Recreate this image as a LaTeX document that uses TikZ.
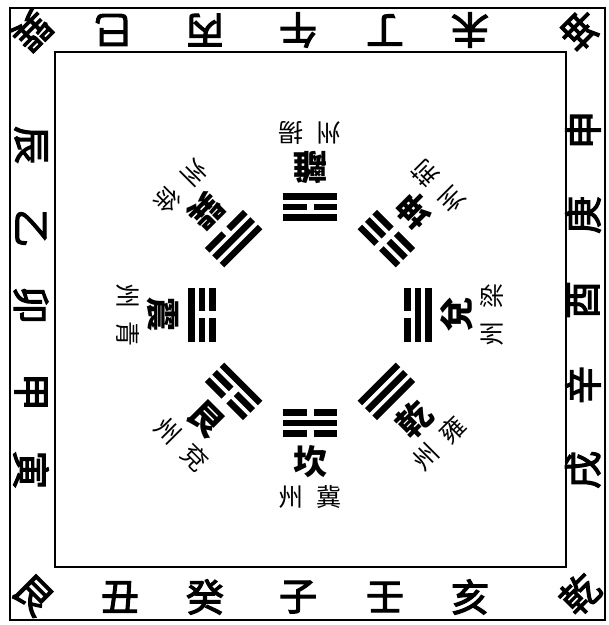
\documentclass[tikz,border=0pt]{standalone}
\usepackage{fontspec}
\newfontfamily\cjk{Noto Sans CJK TC}
\newfontfamily\cjkm{Noto Sans CJK TC}[FakeBold=3]
\newcommand\yaoline[2]{%
  \ifnum#2=1
    \draw[yao] (-27,#1) -- (27,#1);
  \else
    \draw[yao] (-27,#1) -- (-3.5,#1);
    \draw[yao] (3.5,#1) -- (27,#1);
  \fi}
\newcommand\gua[8]{%
  \begin{scope}[shift={(310,310)}, rotate=#1]
    \yaoline{-118.5}{#2}\yaoline{-108}{#3}\yaoline{-97.5}{#4}
    \node[gname, rotate=#1] (#8n) at (0,-147) {#5};
    \node[glabel, rotate=#1] (#8a) at (19,-182) {#6};
    \node[glabel, rotate=#1] (#8b) at (-19,-182) {#7};
  \end{scope}}
\begin{document}
\begin{tikzpicture}[x=1pt,y=1pt,
  bord/.style={font=\cjkm\fontsize{38}{38}\selectfont, inner sep=0pt},
  gname/.style={font=\cjk\bfseries\fontsize{34}{34}\selectfont, inner sep=0pt},
  glabel/.style={font=\cjk\fontsize{25}{25}\selectfont, inner sep=0pt},
  yao/.style={line width=6.5pt}]
\useasboundingbox (0,0) rectangle (609,625);
\fill[white] (0,0) rectangle (609,625);
\draw[line width=1.6pt] (10,5) rectangle (605,617);
\draw[line width=1.2pt] (55,58) rectangle (566,573);
% inner trigram groups
\gua{0}{0}{1}{0}{坎}{冀}{州}{kan}
\gua{45}{1}{1}{1}{乾}{雍}{州}{qian}
\gua{90}{1}{1}{0}{兌}{梁}{州}{dui}
\gua{135}{0}{0}{0}{坤}{荊}{州}{kun}
\gua{180}{1}{0}{1}{離}{揚}{州}{li}
\gua{225}{0}{1}{1}{巽}{徐}{州}{xun}
\gua{270}{1}{0}{0}{震}{青}{州}{zhen}
\gua{315}{0}{0}{1}{艮}{兗}{州}{gen}
% top row
\node[bord, rotate=-135] (cxun) at (32,594) {巽};
\node[bord, rotate=180] (tsi) at (113,595) {巳};
\node[bord, rotate=180] (tbing) at (205,595) {丙};
\node[bord, rotate=180] (twu) at (298,595) {午};
\node[bord, rotate=180] (tding) at (385,595) {丁};
\node[bord, rotate=180] (twei) at (470,595) {未};
\node[bord, rotate=135] (ckun) at (580,595) {坤};
% bottom row
\node[bord, rotate=-45] (cgen) at (33,30) {艮};
\node[bord] (bchou) at (120,28) {丑};
\node[bord] (bgui) at (205,28) {癸};
\node[bord] (bzi) at (298,28) {子};
\node[bord] (bren) at (385,28) {壬};
\node[bord] (bhai) at (470,28) {亥};
\node[bord, rotate=45] (cqian) at (580,31) {乾};
% left column
\node[bord, rotate=-90] (lchen) at (31,480) {辰};
\node[bord, rotate=-90] (lyi) at (31,397) {乙};
\node[bord, rotate=-90] (lmao) at (31,320) {卯};
\node[bord, rotate=-90] (ljia) at (31,233) {甲};
\node[bord, rotate=-90] (lyin) at (31,155) {寅};
% right column
\node[bord, rotate=90] (rshen) at (583,495) {申};
\node[bord, rotate=90] (rgeng) at (583,410) {庚};
\node[bord, rotate=90] (ryou) at (583,325) {酉};
\node[bord, rotate=90] (rxin) at (583,240) {辛};
\node[bord, rotate=90] (rxu) at (583,155) {戌};
\end{tikzpicture}
\end{document}
